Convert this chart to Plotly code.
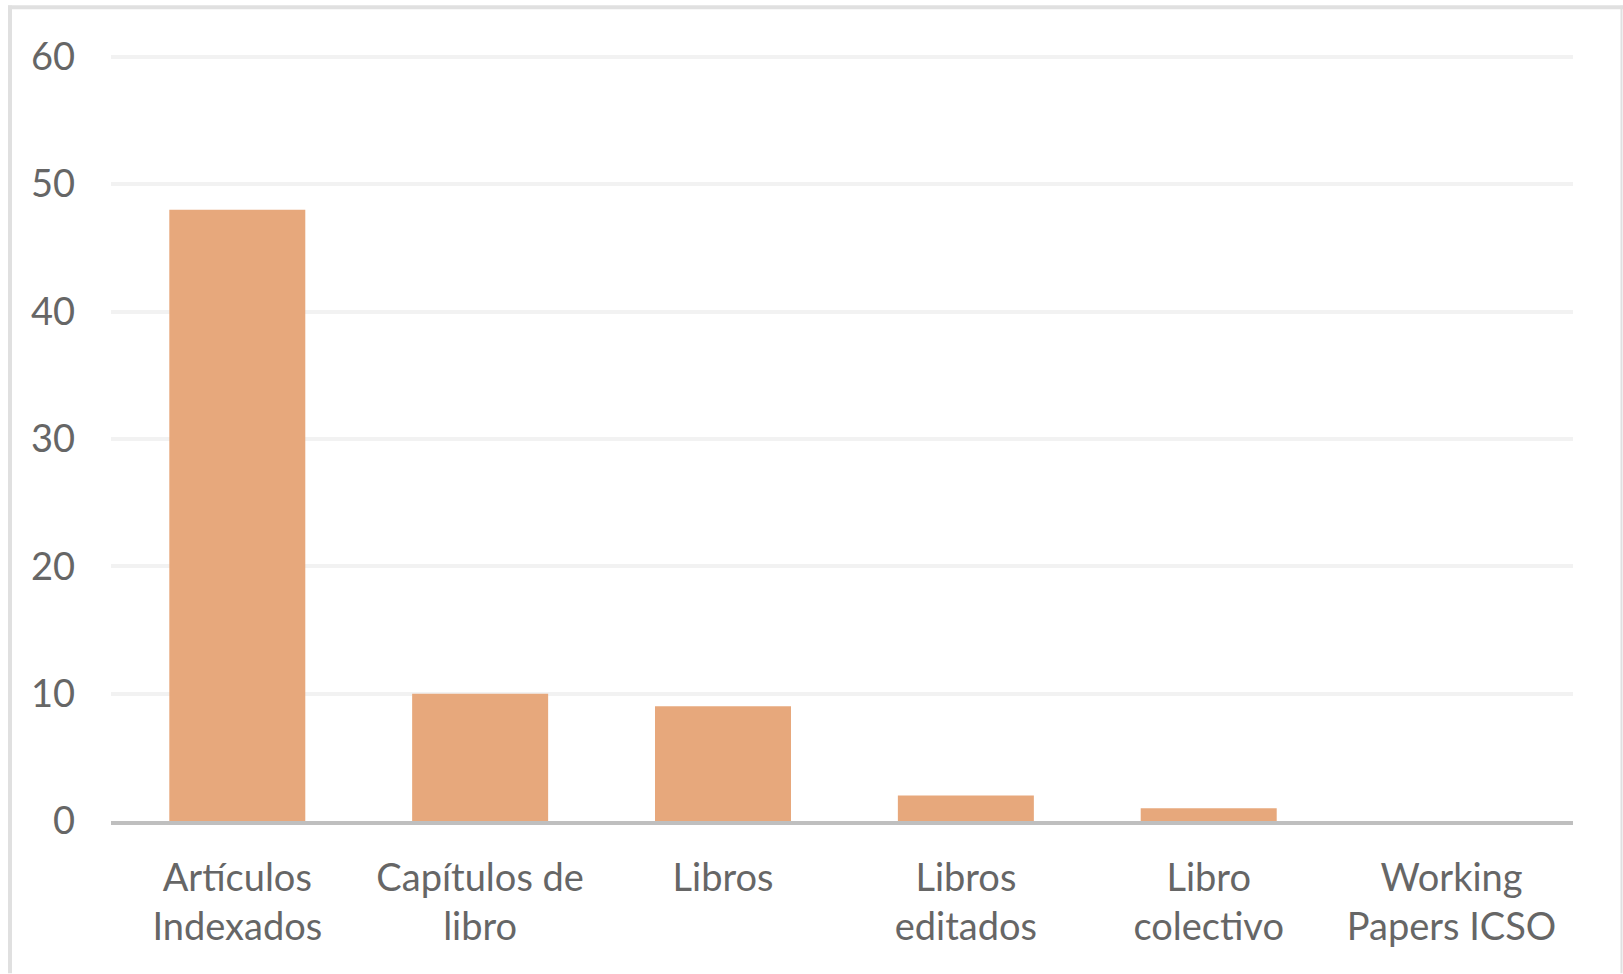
import plotly.graph_objects as go

categories = ["Artículos<br>Indexados", "Capítulos de<br>libro", "Libros",
              "Libros<br>editados", "Libro<br>colectivo", "Working<br>Papers ICSO"]
values = [48, 10, 9, 2, 1, 0]
y_ticks = [0, 10, 20, 30, 40, 50, 60]

W, H = 1623, 974
L, R = 111, 50
y0_px, y60_px = 821.5, 56.5
unit = (y0_px - y60_px) / 60
top_val = 60.3
T = y60_px - (top_val - 60) * unit
B = H - y0_px
pw = W - L - R
ph = H - T - B

def px_x(p):
    return (p - L) / pw

def px_y(p):
    return (H - B - p) / ph

border = "#e0e0e0"
fig = go.Figure(go.Bar(x=categories, y=values, marker=dict(color="#E7A87C", line=dict(width=0)),
                       width=0.56))

fig.update_layout(
    width=W, height=H,
    margin=dict(l=L, r=R, t=T, b=B, autoexpand=False),
    paper_bgcolor="white", plot_bgcolor="white",
    font=dict(family="Lato, Open Sans, sans-serif", size=38, color="#666666"),
    showlegend=False,
    xaxis=dict(range=[-0.52, 5.5], showgrid=False, showline=True, linecolor="#bfbfbf",
               linewidth=4, ticks="", ticklabelstandoff=20, layer="above traces"),
    yaxis=dict(range=[0, top_val], tickvals=y_ticks, showgrid=True, gridcolor="#f2f2f2",
               gridwidth=4, zeroline=False, showline=False, ticks="",
               ticklabelstandoff=35),
    shapes=[
        dict(type="line", xref="paper", yref="paper", x0=px_x(10), x1=px_x(10),
             y0=px_y(5), y1=px_y(974), line=dict(color=border, width=4), layer="below"),
        dict(type="line", xref="paper", yref="paper", x0=px_x(8), x1=px_x(1623),
             y0=px_y(7), y1=px_y(7), line=dict(color=border, width=4), layer="below"),
        dict(type="line", xref="paper", yref="paper", x0=px_x(1621.5), x1=px_x(1621.5),
             y0=px_y(5), y1=px_y(974), line=dict(color=border, width=2), layer="below"),
    ],
)

fig.write_html("out.html", config={"displayModeBar": False},
               post_script="document.body.style.margin='0';")
